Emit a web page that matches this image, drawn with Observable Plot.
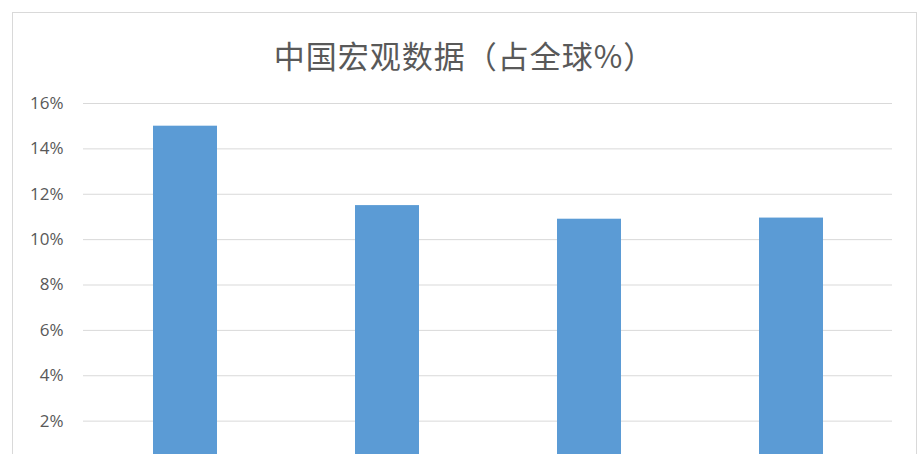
<!DOCTYPE html>
<html>
<head>
<meta charset="utf-8">
<script src="https://cdn.jsdelivr.net/npm/d3@7"></script>
<script src="https://cdn.jsdelivr.net/npm/@observablehq/plot@0.6"></script>
<style>
  html, body { margin: 0; padding: 0; background: #fff; overflow: hidden; }
  #frame {
    position: absolute; left: 12px; top: 12px; width: 903px; height: 600px;
    border: 1px solid #d9d9d9; background: #fff;
  }
  #title {
    position: absolute; left: 0; right: 0; top: 22px; height: 40px; line-height: 40px;
    text-align: center;
    font-family: "Noto Sans CJK SC", sans-serif; font-size: 31px; color: #595959;
    letter-spacing: 1px;
  }
  #chart { position: absolute; left: 0; top: 60px; }
  #chart svg { display: block; }
</style>
</head>
<body>
<div id="frame">
  <div id="title">中国宏观数据（占全球%）</div>
  <div id="chart"></div>
</div>
<script>
const categories = ["GDP", "进口", "出口", "消费"];
const values = [15.0, 11.5, 10.9, 10.95];
const yTicks = [0, 2, 4, 6, 8, 10, 12, 14, 16];
const yLabelTicks = [2, 4, 6, 8, 10, 12, 14, 16];

const data = categories.map((c, i) => ({category: c, value: values[i]}));

const chart = Plot.plot({
  width: 903,
  height: 433,
  marginLeft: 70,
  marginRight: 24,
  marginTop: 30,
  marginBottom: 40,
  style: {fontFamily: "'Open Sans', sans-serif", fontSize: "17px", color: "#595959", background: "#fff"},
  x: {domain: categories, paddingInner: 0.685, paddingOuter: 0.3425, label: null, axis: null},
  y: {domain: [0, 16], ticks: yTicks, label: null, axis: null},
  marks: [
    Plot.ruleY(yTicks, {stroke: "#d9d9d9", strokeWidth: 1}),
    Plot.barY(data, {x: "category", y: "value", fill: "#5b9bd5"}),
    Plot.axisY({ticks: yLabelTicks, tickSize: 0, tickPadding: 20, tickFormat: d => d + "%", label: null, fill: "#595959"})
  ]
});
document.getElementById("chart").appendChild(chart);
</script>
</body>
</html>
